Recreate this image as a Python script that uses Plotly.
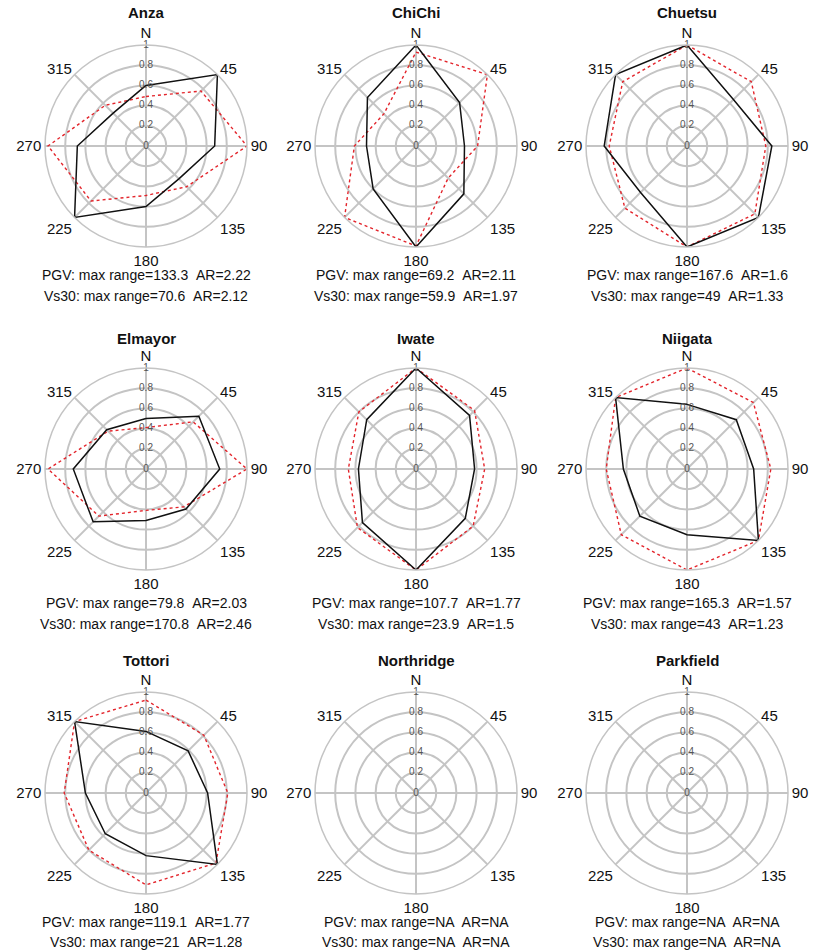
import plotly.graph_objects as go

W, H = 814, 952

events = ["Anza", "ChiChi", "Chuetsu", "Elmayor", "Iwate", "Niigata",
          "Tottori", "Northridge", "Parkfield"]
directions = [0, 45, 90, 135, 180, 225, 270, 315]
dir_labels = ["N", "45", "90", "135", "180", "225", "270", "315"]
radial_ticks = [0, 0.2, 0.4, 0.6, 0.8, 1]
radial_tick_labels = ["0", "0.2", "0.4", "0.6", "0.8", "1"]

# normalized PGV (black solid)
pgv_anza = [0.60, 1.00, 0.68, 0.46, 0.60, 1.00, 0.68, 0.46]
pgv_chichi = [1.00, 0.61, 0.48, 0.67, 1.00, 0.60, 0.49, 0.68]
pgv_chuetsu = [1.00, 0.65, 0.84, 1.00, 1.00, 0.65, 0.82, 1.00]
pgv_elmayor = [0.50, 0.74, 0.73, 0.56, 0.51, 0.74, 0.72, 0.55]
pgv_iwate = [1.00, 0.75, 0.58, 0.69, 1.00, 0.75, 0.57, 0.69]
pgv_niigata = [0.64, 0.69, 0.66, 1.00, 0.65, 0.66, 0.63, 1.00]
pgv_tottori = [0.61, 0.59, 0.61, 1.00, 0.62, 0.57, 0.60, 1.00]

# normalized Vs30 (red dotted)
vs_anza = [0.49, 0.77, 1.00, 0.57, 0.49, 0.77, 0.97, 0.57]
vs_chichi = [0.93, 1.00, 0.61, 0.45, 0.99, 1.00, 0.61, 0.45]
vs_chuetsu = [1.00, 0.90, 0.78, 0.95, 1.00, 0.87, 0.77, 0.90]
vs_elmayor = [0.41, 0.66, 1.00, 0.53, 0.41, 0.66, 0.97, 0.53]
vs_iwate = [1.00, 0.82, 0.68, 0.80, 1.00, 0.82, 0.67, 0.80]
vs_niigata = [1.00, 0.93, 0.83, 1.00, 1.00, 0.92, 0.80, 1.00]
vs_tottori = [0.92, 0.81, 0.81, 0.98, 0.91, 0.80, 0.81, 1.00]

pgv_series = [pgv_anza, pgv_chichi, pgv_chuetsu, pgv_elmayor, pgv_iwate,
              pgv_niigata, pgv_tottori, None, None]
vs_series = [vs_anza, vs_chichi, vs_chuetsu, vs_elmayor, vs_iwate,
             vs_niigata, vs_tottori, None, None]

pgv_range = ["133.3", "69.2", "167.6", "79.8", "107.7", "165.3", "119.1", "NA", "NA"]
pgv_ar = ["2.22", "2.11", "1.6", "2.03", "1.77", "1.57", "1.77", "NA", "NA"]
vs_range = ["70.6", "59.9", "49", "170.8", "23.9", "43", "21", "NA", "NA"]
vs_ar = ["2.12", "1.97", "1.33", "2.46", "1.5", "1.23", "1.28", "NA", "NA"]

# layout geometry (pixels)
col_cx = [146, 416, 687]
row_cy = [146, 469, 793]
R = 101
title_y = [13, 338, 660]
line1_y = [275, 603, 922]
line2_y = [296, 624, 942]

FONT = "Liberation Sans, Arial, sans-serif"
GRID = "#c4c4c4"
SP = " \u00a0"

fig = go.Figure()
layout = {}
annotations = []

for i, name in enumerate(events):
    r_i, c_i = divmod(i, 3)
    cx, cy = col_cx[c_i], row_cy[r_i]
    pid = "polar" if i == 0 else f"polar{i+1}"
    sub = pid
    layout[pid] = dict(
        domain=dict(x=[(cx - R) / W, (cx + R) / W],
                    y=[1 - (cy + R) / H, 1 - (cy - R) / H]),
        bgcolor="white",
        angularaxis=dict(
            direction="clockwise", rotation=90,
            tickmode="array", tickvals=directions, ticktext=dir_labels,
            tickfont=dict(family=FONT, size=15, color="#111"),
            showline=True, linecolor=GRID, linewidth=1.5,
            gridcolor=GRID, gridwidth=1.5,
            ticks="", showgrid=True,
        ),
        radialaxis=dict(
            range=[0, 1], tickmode="array", tickvals=radial_ticks[1:],
            showticklabels=False, ticks="", showline=False,
            gridcolor=GRID, gridwidth=1.5, angle=90,
        ),
    )
    if pgv_series[i] is not None:
        p = pgv_series[i]
        v = vs_series[i]
        fig.add_trace(go.Scatterpolar(
            r=v + [v[0]], theta=directions + [directions[0]], mode="lines",
            line=dict(color="#e3242b", width=1.4, dash="dot"),
            subplot=sub, showlegend=False, hoverinfo="skip"))
        fig.add_trace(go.Scatterpolar(
            r=p + [p[0]], theta=directions + [directions[0]], mode="lines",
            line=dict(color="#111111", width=1.5),
            subplot=sub, showlegend=False, hoverinfo="skip"))
    fig.add_trace(go.Scatterpolar(
        r=radial_ticks, theta=[0] * len(radial_ticks), mode="text",
        text=radial_tick_labels, textposition="middle center",
        textfont=dict(family=FONT, size=10, color="#555"),
        subplot=sub, showlegend=False, hoverinfo="skip"))

    annotations.append(dict(
        x=cx / W, y=1 - title_y[r_i] / H, xref="paper", yref="paper",
        text=f"<b>{name}</b>", showarrow=False, xanchor="center", yanchor="middle",
        font=dict(family=FONT, size=15, color="#111")))
    annotations.append(dict(
        x=cx / W, y=1 - line1_y[r_i] / H, xref="paper", yref="paper",
        text=f"PGV: max range={pgv_range[i]}{SP}AR={pgv_ar[i]}",
        showarrow=False, xanchor="center", yanchor="middle",
        font=dict(family=FONT, size=14, color="#111")))
    annotations.append(dict(
        x=cx / W, y=1 - line2_y[r_i] / H, xref="paper", yref="paper",
        text=f"Vs30: max range={vs_range[i]}{SP}AR={vs_ar[i]}",
        showarrow=False, xanchor="center", yanchor="middle",
        font=dict(family=FONT, size=14, color="#111")))

fig.update_layout(
    width=W, height=H, margin=dict(l=0, r=0, t=0, b=0),
    paper_bgcolor="white", plot_bgcolor="white",
    annotations=annotations, showlegend=False,
    **layout,
)

fig.write_html(
    "out.html",
    config={"displayModeBar": False},
    post_script="document.body.style.margin='0';document.body.style.padding='0';"
                "document.body.style.overflow='hidden';",
)
